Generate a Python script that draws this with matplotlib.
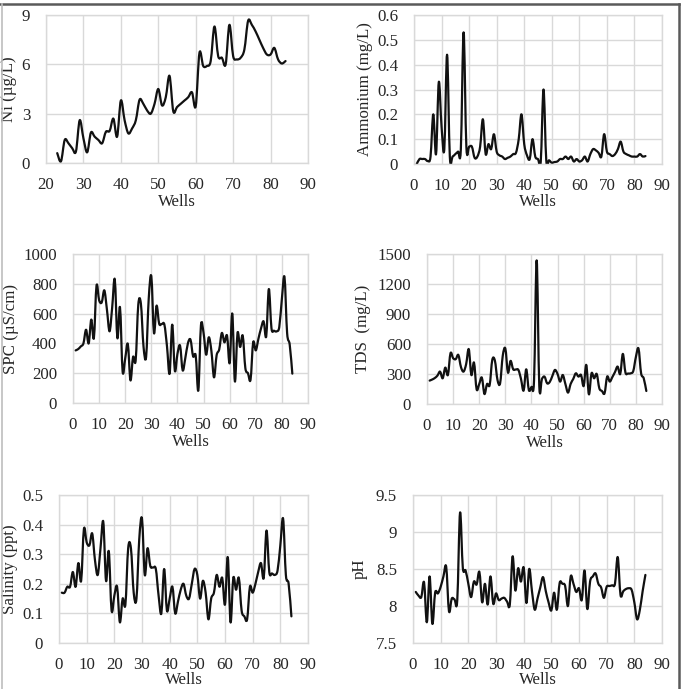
import numpy as np
import matplotlib
matplotlib.use("Agg")
import matplotlib.pyplot as plt
from matplotlib.path import Path
from matplotlib.patches import PathPatch
from matplotlib.lines import Line2D

plt.rcParams['font.family'] = ['Liberation Serif', 'DejaVu Serif']

# ---------------- data ----------------
ni_wells = list(range(23, 85))
ni = [0.6, 0.1, 1.4, 1.2, 0.9, 0.7, 2.6, 1.5, 0.65, 1.85, 1.6, 1.4, 1.2, 1.9, 1.95,
      2.7, 1.6, 3.8, 2.6, 1.8, 2.1, 2.6, 3.85, 3.6, 3.2, 3.0, 3.6, 4.5, 3.5, 4.0,
      5.3, 3.15, 3.4, 3.6, 3.8, 4.0, 4.3, 3.45, 6.7, 5.9, 5.9, 6.2, 8.3, 6.5, 6.4,
      6.0, 8.4, 6.5, 6.3, 6.4, 6.9, 8.65, 8.4, 8.0, 7.5, 7.0, 6.6, 6.6, 7.0, 6.3,
      6.05, 6.2]

wells = list(range(1, 85))
ammonium = [0.0, 0.02, 0.02, 0.02, 0.012, 0.03, 0.2, 0.04, 0.33, 0.15, 0.06, 0.44,
            0.03, 0.03, 0.04, 0.05, 0.06, 0.53, 0.07, 0.07, 0.07, 0.025, 0.03, 0.07,
            0.18, 0.04, 0.08, 0.06, 0.12, 0.05, 0.035, 0.03, 0.02, 0.025, 0.03, 0.04,
            0.045, 0.1, 0.2, 0.08, 0.035, 0.02, 0.1, 0.03, 0.02, 0.01, 0.3, 0.015,
            0.015, 0.005, 0.008, 0.01, 0.02, 0.02, 0.03, 0.02, 0.03, 0.01, 0.02, 0.01,
            0.015, 0.03, 0.01, 0.04, 0.06, 0.055, 0.045, 0.03, 0.12, 0.05, 0.04, 0.032,
            0.04, 0.06, 0.09, 0.05, 0.04, 0.035, 0.03, 0.03, 0.03, 0.04, 0.03, 0.032]

spc = [353, 362, 380, 400, 492, 400, 560, 436, 787, 690, 675, 756, 626, 481, 640,
       830, 436, 642, 212, 300, 396, 152, 309, 286, 660, 667, 380, 309, 700, 850,
       470, 653, 532, 530, 526, 380, 197, 526, 217, 330, 385, 219, 300, 400, 425,
       313, 318, 85, 521, 470, 324, 441, 350, 172, 320, 360, 470, 407, 452, 268,
       600, 145, 470, 376, 452, 235, 200, 157, 407, 353, 430, 500, 548, 447, 765,
       503, 485, 481, 510, 700, 845, 470, 391, 197]

tds = [234, 245, 260, 284, 324, 257, 364, 290, 508, 458, 448, 491, 370, 324, 400,
       548, 290, 414, 147, 200, 264, 100, 200, 190, 441, 434, 240, 207, 480, 555,
       314, 431, 347, 345, 341, 250, 134, 347, 140, 170, 240, 1436, 180, 250, 274,
       207, 220, 280, 341, 300, 224, 290, 200, 114, 200, 250, 307, 274, 290, 180,
       391, 97, 307, 257, 300, 157, 130, 107, 274, 224, 270, 320, 374, 300, 501,
       314, 305, 307, 330, 470, 555, 307, 257, 130]

salinity = [0.17, 0.17, 0.19, 0.19, 0.24, 0.19, 0.27, 0.21, 0.385, 0.34, 0.33, 0.37,
            0.28, 0.23, 0.32, 0.41, 0.21, 0.31, 0.11, 0.16, 0.19, 0.07, 0.15, 0.13,
            0.32, 0.32, 0.17, 0.15, 0.35, 0.42, 0.23, 0.32, 0.26, 0.255, 0.25, 0.16,
            0.10, 0.25, 0.11, 0.15, 0.19, 0.10, 0.14, 0.18, 0.20, 0.16, 0.15, 0.20,
            0.25, 0.23, 0.15, 0.21, 0.17, 0.08, 0.15, 0.17, 0.23, 0.19, 0.22, 0.13,
            0.29, 0.07, 0.22, 0.18, 0.22, 0.11, 0.09, 0.08, 0.19, 0.17, 0.20, 0.24,
            0.27, 0.22, 0.38, 0.24, 0.235, 0.23, 0.245, 0.33, 0.42, 0.23, 0.20, 0.09]

ph = [8.19, 8.14, 8.12, 8.32, 7.78, 8.4, 7.76, 8.18, 8.17, 8.26, 8.4, 8.53, 7.93,
      8.1, 8.09, 8.08, 9.26, 8.52, 8.48, 8.3, 8.12, 8.33, 8.29, 8.46, 8.05, 8.3,
      8.02, 8.4, 8.03, 8.17, 8.08, 8.1, 8.11, 8.06, 8.02, 8.67, 8.21, 8.51, 8.33,
      8.52, 8.04, 8.5, 8.2, 7.95, 8.1, 8.25, 8.39, 8.2, 8.05, 7.94, 8.18, 7.95,
      8.31, 8.3, 8.27, 8.0, 8.4, 8.3, 8.19, 8.24, 8.08, 8.48, 7.96, 8.33, 8.4,
      8.44, 8.3, 8.25, 8.11, 8.26, 8.27, 8.28, 8.3, 8.66, 8.15, 8.2, 8.23, 8.24,
      8.22, 8.05, 7.82, 7.95, 8.2, 8.42]

x_label = "Wells"

# ---------------- helpers ----------------
def smooth_path(x, y):
    """Excel-style smoothed line: cubic Bezier segments (Catmull-Rom controls)."""
    x = np.asarray(x, float); y = np.asarray(y, float)
    n = len(x)
    verts = [(x[0], y[0])]
    codes = [Path.MOVETO]
    for i in range(n - 1):
        p0 = np.array([x[max(i - 1, 0)], y[max(i - 1, 0)]])
        p1 = np.array([x[i], y[i]])
        p2 = np.array([x[i + 1], y[i + 1]])
        p3 = np.array([x[min(i + 2, n - 1)], y[min(i + 2, n - 1)]])
        c1 = p1 + (p2 - p0) / 6.0
        c2 = p2 - (p3 - p1) / 6.0
        verts += [tuple(c1), tuple(c2), tuple(p2)]
        codes += [Path.CURVE4] * 3
    return Path(verts, codes)

GRID = '#d9d9d9'
TXT = '#262626'
FS = 12.2

def panel(rect, x, y, xlim, xticks, ylim, yticks, yticklabels, ylabel,
          ylab_x, xlab_y):
    ax = fig.add_axes(rect)
    ax.set_xlim(*xlim)
    ax.set_ylim(*ylim)
    ax.set_xticks(xticks)
    ax.set_yticks(yticks)
    ax.set_yticklabels(yticklabels)
    ax.grid(True, color=GRID, linewidth=1.0)
    ax.set_axisbelow(True)
    for s in ax.spines.values():
        s.set_color(GRID)
        s.set_linewidth(1.0)
    ax.tick_params(length=0, labelsize=FS, colors=TXT)
    ax.tick_params(axis='y', pad=11.5)
    ax.tick_params(axis='x', pad=10)
    patch = PathPatch(smooth_path(x, y), fill=False, edgecolor='#111111',
                      linewidth=1.6, capstyle='round', joinstyle='round')
    ax.add_patch(patch)
    ax.set_ylabel(ylabel, fontsize=FS, color=TXT, va='center')
    ax.yaxis.set_label_coords(ylab_x, 0.5)
    ax.set_xlabel(x_label, fontsize=FS, color=TXT, va='center')
    ax.xaxis.set_label_coords(0.5, xlab_y)
    return ax

W, H = 687, 689
fig = plt.figure(figsize=(W / 100, H / 100), dpi=100)

def rect(l, r, t, b):
    return [l / W, 1 - b / H, (r - l) / W, (b - t) / H]

panel(rect(46, 308, 15, 163), ni_wells, ni, (20, 90), range(20, 91, 10),
      (0, 9), [0, 3, 6, 9], ['0', '3', '6', '9'], 'Ni (µg/L)', -0.141, -0.262)
panel(rect(414, 662, 15, 164), wells, ammonium, (0, 90), range(0, 91, 10),
      (0, 0.6), np.arange(0, 0.61, 0.1),
      ['0', '0.1', '0.2', '0.3', '0.4', '0.5', '0.6'], 'Ammonium (mg/L)', -0.198, -0.255)
panel(rect(73, 308, 254, 403), wells, spc, (0, 90), range(0, 91, 10),
      (0, 1000), range(0, 1001, 200), [str(v) for v in range(0, 1001, 200)],
      'SPC (µS/cm)', -0.262, -0.262)
panel(rect(427, 662, 254, 404), wells, tds, (0, 90), range(0, 91, 10),
      (0, 1500), range(0, 1501, 300), [str(v) for v in range(0, 1501, 300)],
      'TDS  (mg/L)', -0.272, -0.26)
panel(rect(59, 308, 495, 643), wells, salinity, (0, 90), range(0, 91, 10),
      (0, 0.5), np.arange(0, 0.51, 0.1),
      ['0', '0.1', '0.2', '0.3', '0.4', '0.5'], 'Salinity (ppt)', -0.196, -0.25)
panel(rect(413, 662, 495, 643), wells, ph, (0, 90), range(0, 91, 10),
      (7.5, 9.5), [7.5, 8, 8.5, 9, 9.5], ['7.5', '8', '8.5', '9', '9.5'],
      'pH', -0.213, -0.25)

# outer frame
fig.add_artist(Line2D([0, 679 / W], [1 - 3.5 / H] * 2, transform=fig.transFigure,
                      color='#5a5a5a', linewidth=1.8))
fig.add_artist(Line2D([678.5 / W] * 2, [0, 1 - 3.5 / H], transform=fig.transFigure,
                      color='#5a5a5a', linewidth=1.8))
fig.add_artist(Line2D([1.5 / W] * 2, [0, 1 - 3.5 / H], transform=fig.transFigure,
                      color='#bdbdbd', linewidth=1.2))

fig.savefig('out.png', dpi=100)
